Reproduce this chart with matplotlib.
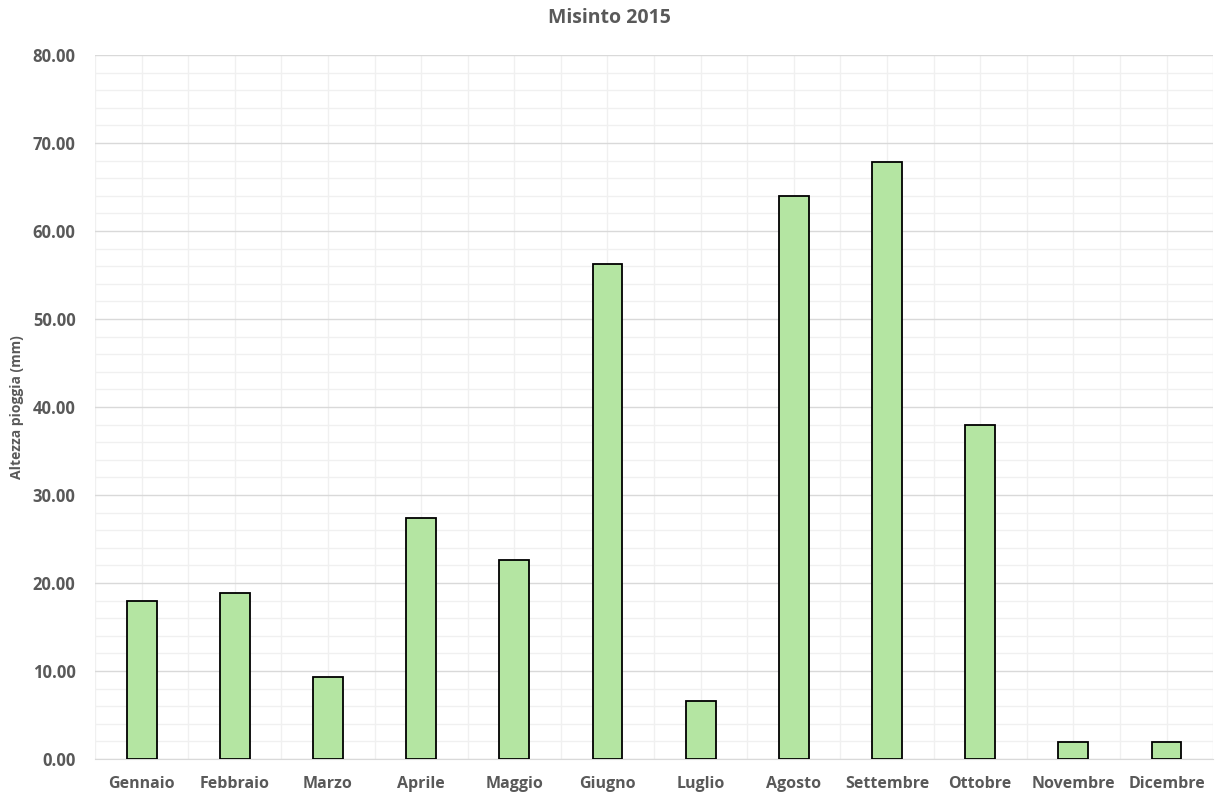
import numpy as np
import matplotlib
matplotlib.use('Agg')
import matplotlib.pyplot as plt
from matplotlib.ticker import MultipleLocator, FixedLocator

# ── Data ──────────────────────────────────────────────
mesi = ['Gennaio', 'Febbraio', 'Marzo', 'Aprile', 'Maggio', 'Giugno',
        'Luglio', 'Agosto', 'Settembre', 'Ottobre', 'Novembre', 'Dicembre']
pioggia = [18.0, 18.8, 9.3, 27.4, 22.6, 56.2, 6.6, 64.0, 67.8, 38.0, 1.9, 1.9]

TEXT = '#595959'
plt.rcParams.update({
    'font.family': ['Open Sans', 'DejaVu Sans'],
    'font.weight': 'bold',
    'axes.labelweight': 'bold',
})

fig = plt.figure(figsize=(12.18, 7.98), dpi=100)
ax = fig.add_axes([0.078, 0.049, 0.918, 0.882])

x = np.arange(len(mesi))
ax.bar(x, pioggia, width=0.32, color='#b4e5a2', edgecolor='black',
       linewidth=1.3, zorder=3)

ax.set_xlim(-0.5, len(mesi) - 0.5)
ax.set_ylim(0, 80)
ax.yaxis.set_major_locator(MultipleLocator(10))
ax.yaxis.set_minor_locator(MultipleLocator(2))
ax.yaxis.set_major_formatter(lambda v, p: f'{v:.2f}')
ax.set_xticks(x)
ax.set_xticklabels(mesi)
ax.xaxis.set_minor_locator(FixedLocator(np.arange(-0.5, len(mesi), 1.0)))

# gridlines: major on y, minor on y and both x sets
ax.grid(axis='y', which='major', color='#d9d9d9', lw=1.0, zorder=0)
ax.grid(axis='y', which='minor', color='#f0f0f0', lw=1.0, zorder=0)
ax.grid(axis='x', which='both', color='#f0f0f0', lw=1.0, zorder=0)

for s in ['top', 'right', 'left']:
    ax.spines[s].set_visible(False)
ax.spines['bottom'].set_color('#d9d9d9')
ax.tick_params(which='both', length=0)
ax.tick_params(axis='x', colors=TEXT, labelsize=11.5, pad=12)
ax.tick_params(axis='y', colors=TEXT, labelsize=12, pad=14)

ax.set_ylabel('Altezza pioggia (mm)', color=TEXT, fontsize=10, labelpad=6)
fig.text(0.5, 0.977, 'Misinto 2015', ha='center', va='center',
         color=TEXT, fontsize=14, fontweight='bold')

plt.savefig('out.png', dpi=100)
